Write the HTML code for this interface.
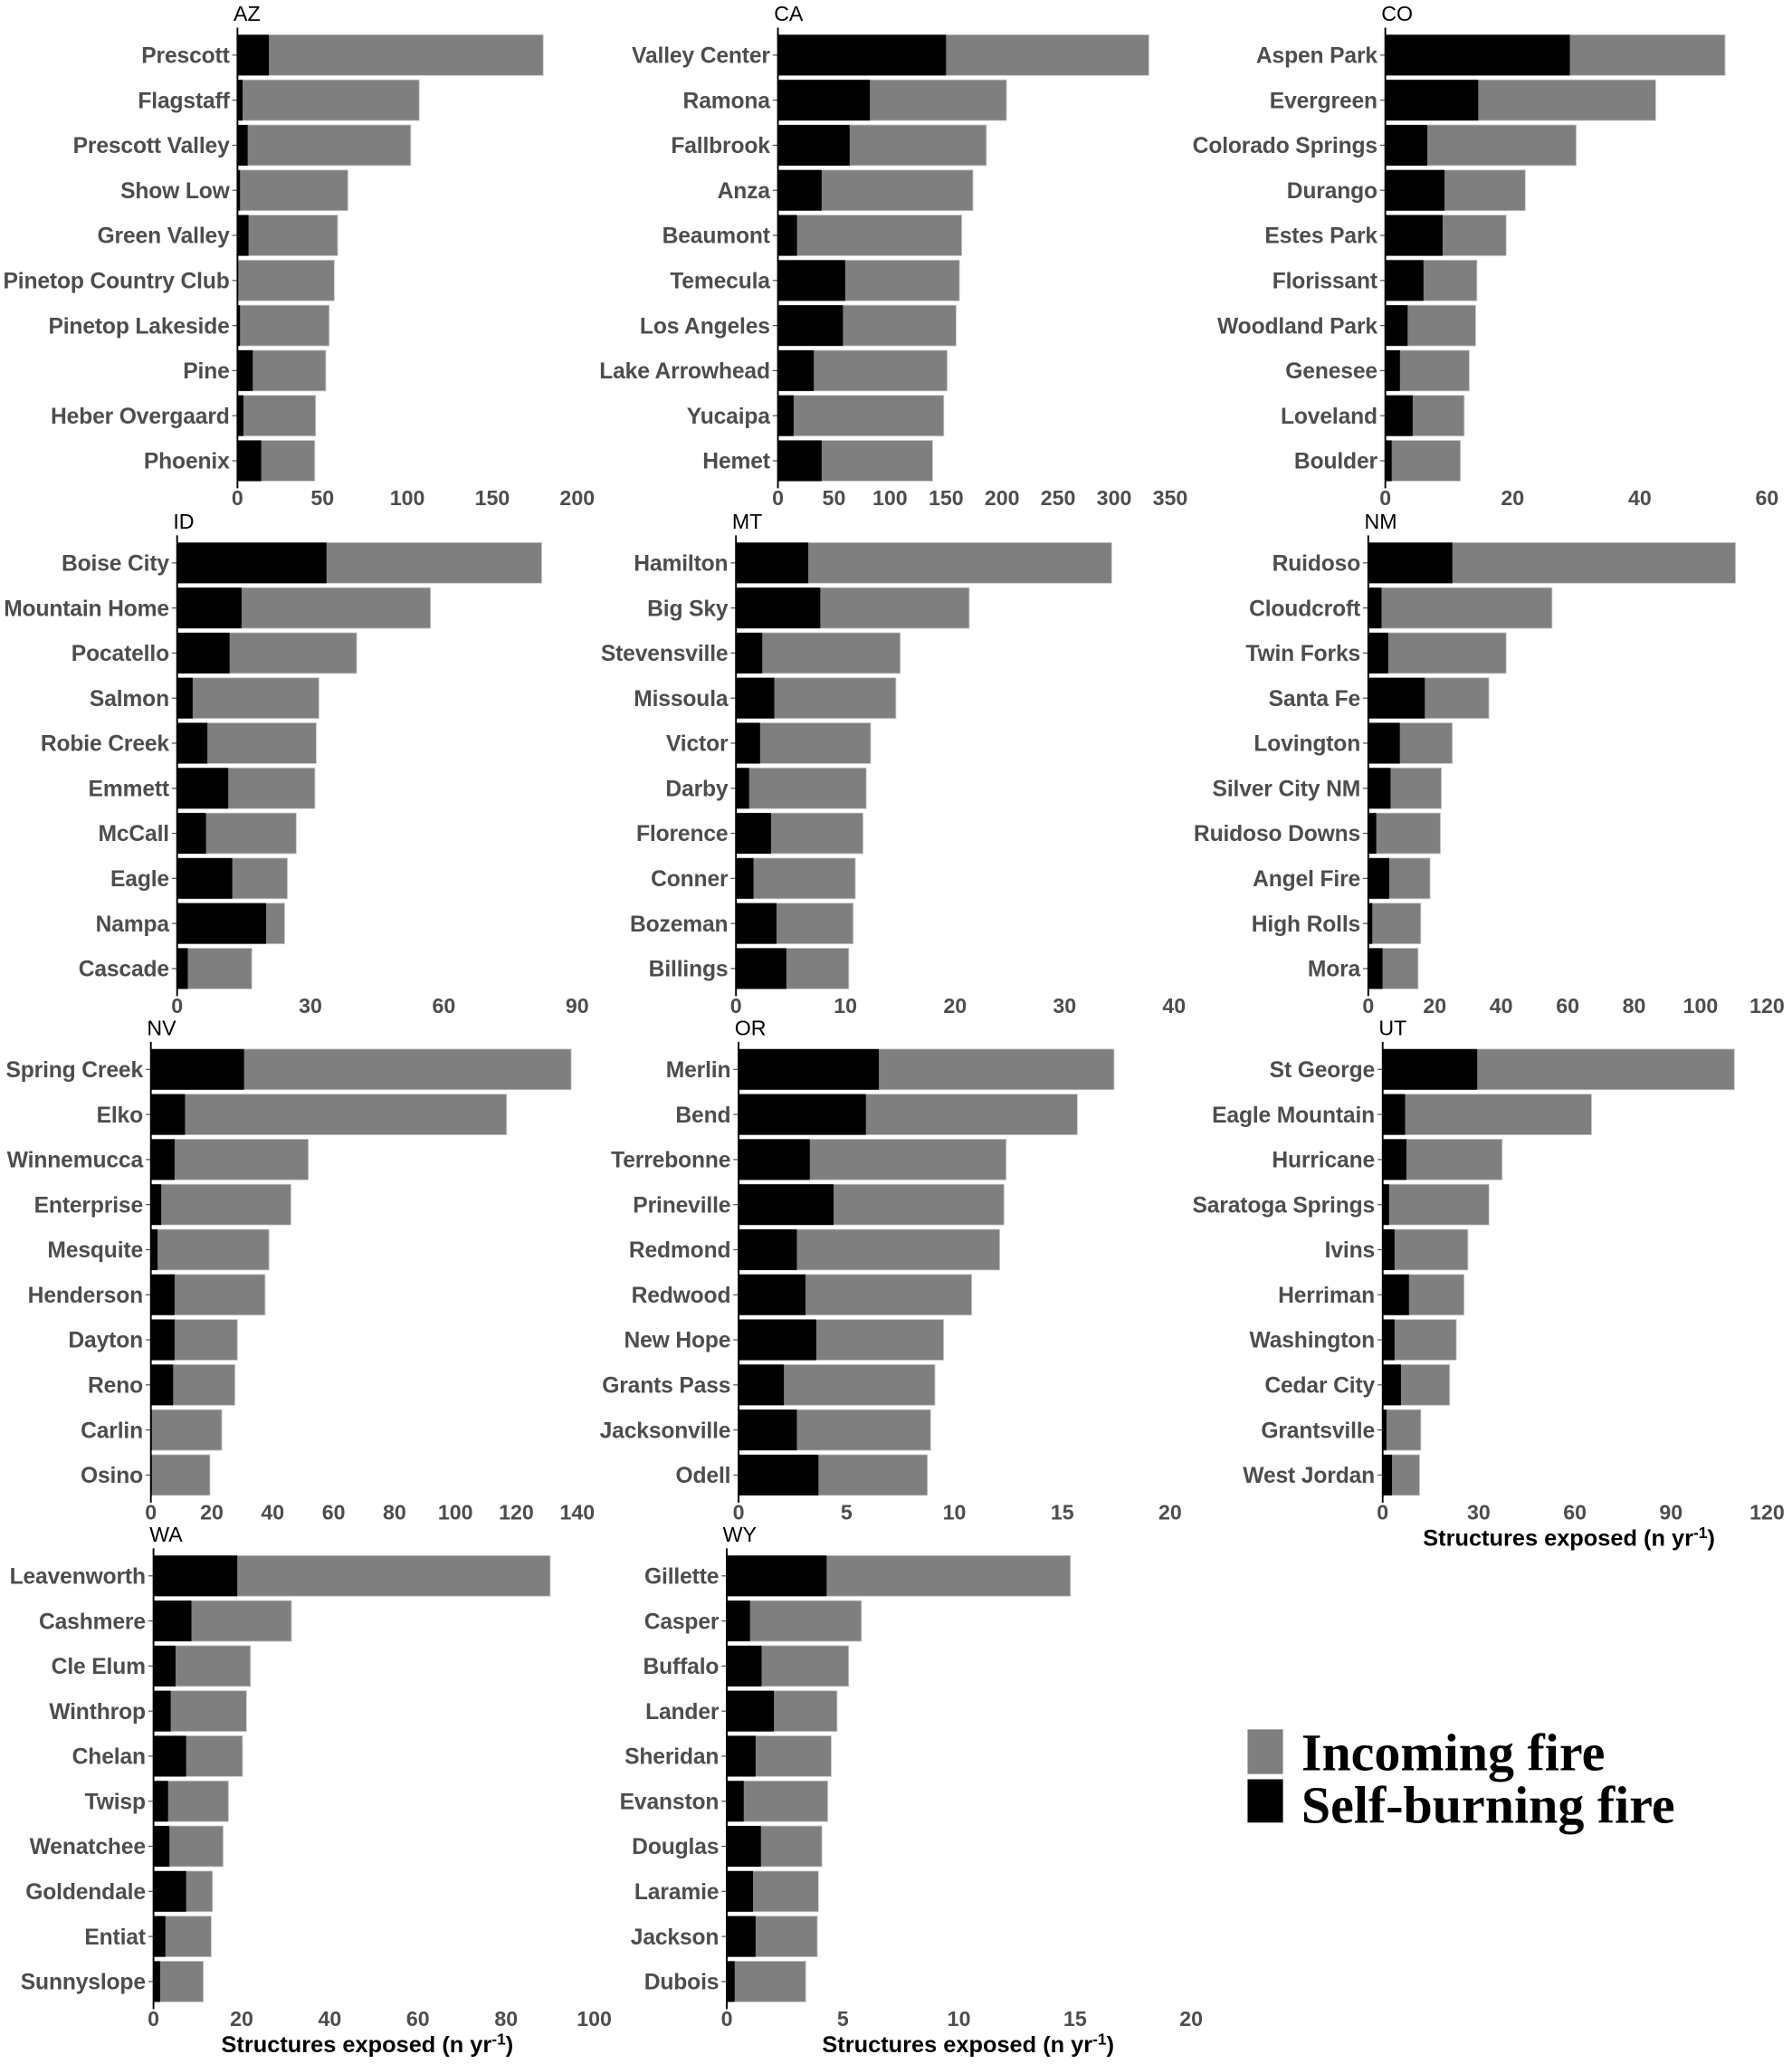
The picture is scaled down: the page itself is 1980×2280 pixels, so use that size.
<!DOCTYPE html>
<html><head><meta charset="utf-8"><style>
html,body{margin:0;padding:0;background:#fff}
svg{display:block}
.lab{font-family:"Liberation Sans",sans-serif;font-weight:bold;font-size:17px;fill:#4d4d4d;letter-spacing:-0.1px}
.tick{font-family:"Liberation Sans",sans-serif;font-weight:bold;font-size:16px;fill:#4d4d4d}
.ttl{font-family:"Liberation Sans",sans-serif;font-size:16px;fill:#000}
.axt{font-family:"Liberation Sans",sans-serif;font-weight:bold;font-size:17.5px;fill:#000}
.leg{font-family:"Liberation Serif",serif;font-weight:bold;font-size:40px;fill:#000}
</style></head><body>
<svg id="chart" width="1980" height="2280" viewBox="0 0 1366 1573" xmlns="http://www.w3.org/2000/svg">
<g>
<rect x="951" y="1318" width="27" height="34" fill="#7f7f7f"/>
<rect x="951" y="1356" width="27" height="33" fill="#000"/>
<text class="leg" x="992" y="1349">Incoming fire</text>
<text class="leg" x="992" y="1389">Self-burning fire</text>
</g>
</svg>
<script>
const azNames=["Prescott","Flagstaff","Prescott Valley","Show Low","Green Valley","Pinetop Country Club","Pinetop Lakeside","Pine","Heber Overgaard","Phoenix"];
const azTotal=[180,107,102,65,59,57,54,52,46,45.5];
const azSelf=[18.5,3,6,1.5,6.5,0.3,1.5,9,3.5,14];
const caNames=["Valley Center","Ramona","Fallbrook","Anza","Beaumont","Temecula","Los Angeles","Lake Arrowhead","Yucaipa","Hemet"];
const caTotal=[331,204,186,174,164,162,159,151,148,138];
const caSelf=[150,82,64,39,17,60,58,32,14,39];
const coNames=["Aspen Park","Evergreen","Colorado Springs","Durango","Estes Park","Florissant","Woodland Park","Genesee","Loveland","Boulder"];
const coTotal=[53.4,42.5,30,22,19,14.4,14.2,13.2,12.4,11.8];
const coSelf=[29,14.6,6.6,9.3,9,6,3.5,2.3,4.3,1];
const idNames=["Boise City","Mountain Home","Pocatello","Salmon","Robie Creek","Emmett","McCall","Eagle","Nampa","Cascade"];
const idTotal=[82,57,40.4,31.9,31.3,31,26.8,24.8,24.2,16.8];
const idSelf=[33.6,14.5,11.8,3.5,6.8,11.5,6.5,12.4,20,2.4];
const mtNames=["Hamilton","Big Sky","Stevensville","Missoula","Victor","Darby","Florence","Conner","Bozeman","Billings"];
const mtTotal=[34.3,21.3,15,14.6,12.3,11.9,11.6,10.9,10.7,10.3];
const mtSelf=[6.6,7.7,2.4,3.5,2.2,1.2,3.2,1.6,3.7,4.6];
const nmNames=["Ruidoso","Cloudcroft","Twin Forks","Santa Fe","Lovington","Silver City NM","Ruidoso Downs","Angel Fire","High Rolls","Mora"];
const nmTotal=[110.5,55.3,41.5,36.3,25.3,22,21.7,18.6,15.8,15];
const nmSelf=[25.3,4,6,17,9.5,6.7,2.4,6.3,1.2,4.3];
const nvNames=["Spring Creek","Elko","Winnemucca","Enterprise","Mesquite","Henderson","Dayton","Reno","Carlin","Osino"];
const nvTotal=[138,116.8,51.7,46,38.8,37.5,28.4,27.6,23.3,19.4];
const nvSelf=[30.6,11.2,7.8,3.4,2.2,7.8,7.8,7.3,0.3,0.3];
const orNames=["Merlin","Bend","Terrebonne","Prineville","Redmond","Redwood","New Hope","Grants Pass","Jacksonville","Odell"];
const orTotal=[17.4,15.7,12.4,12.3,12.1,10.8,9.5,9.1,8.9,8.75];
const orSelf=[6.5,5.9,3.3,4.4,2.7,3.1,3.6,2.1,2.7,3.7];
const utNames=["St George","Eagle Mountain","Hurricane","Saratoga Springs","Ivins","Herriman","Washington","Cedar City","Grantsville","West Jordan"];
const utTotal=[109.8,65.2,37.3,33.2,26.6,25.4,23,20.9,11.9,11.5];
const utSelf=[29.5,7,7.4,2,3.7,8.2,3.7,5.7,1.2,2.9];
const waNames=["Leavenworth","Cashmere","Cle Elum","Winthrop","Chelan","Twisp","Wenatchee","Goldendale","Entiat","Sunnyslope"];
const waTotal=[90,31.3,22,21.1,20.2,17,15.8,13.4,13.1,11.3];
const waSelf=[19,8.6,5,3.9,7.4,3.3,3.6,7.4,2.7,1.5];
const wyNames=["Gillette","Casper","Buffalo","Lander","Sheridan","Evanston","Douglas","Laramie","Jackson","Dubois"];
const wyTotal=[14.8,5.8,5.25,4.75,4.5,4.35,4.1,3.95,3.9,3.4];
const wySelf=[4.3,1,1.5,2.03,1.24,0.73,1.47,1.13,1.24,0.34];
const azTicks=[0,50,100,150,200],caTicks=[0,50,100,150,200,250,300,350],coTicks=[0,20,40,60];
const idTicks=[0,30,60,90],mtTicks=[0,10,20,30,40],nmTicks=[0,20,40,60,80,100,120];
const nvTicks=[0,20,40,60,80,100,120,140],orTicks=[0,5,10,15,20],utTicks=[0,30,60,90,120];
const waTicks=[0,20,40,60,80,100],wyTicks=[0,5,10,15,20];

const panels=[
 {id:"AZ",n:azNames,t:azTotal,s:azSelf,k:azTicks,x0:181,x1:440,y:42},
 {id:"CA",n:caNames,t:caTotal,s:caSelf,k:caTicks,x0:593,x1:892,y:42},
 {id:"CO",n:coNames,t:coTotal,s:coSelf,k:coTicks,x0:1056,x1:1347,y:42},
 {id:"ID",n:idNames,t:idTotal,s:idSelf,k:idTicks,x0:135,x1:440,y:429},
 {id:"MT",n:mtNames,t:mtTotal,s:mtSelf,k:mtTicks,x0:561,x1:895,y:429},
 {id:"NM",n:nmNames,t:nmTotal,s:nmSelf,k:nmTicks,x0:1043,x1:1347,y:429},
 {id:"NV",n:nvNames,t:nvTotal,s:nvSelf,k:nvTicks,x0:115,x1:440,y:815},
 {id:"OR",n:orNames,t:orTotal,s:orSelf,k:orTicks,x0:563,x1:892,y:815},
 {id:"UT",n:utNames,t:utTotal,s:utSelf,k:utTicks,x0:1054,x1:1347,y:815,tc:1196},
 {id:"WA",n:waNames,t:waTotal,s:waSelf,k:waTicks,x0:117,x1:453,y:1201,tc:280},
 {id:"WY",n:wyNames,t:wyTotal,s:wySelf,k:wyTicks,x0:554,x1:908,y:1201,tc:738}
];
const NS="http://www.w3.org/2000/svg";
const svg=document.getElementById('chart');
function mk(tag,attrs,parent){const e=document.createElementNS(NS,tag);for(const a in attrs)e.setAttribute(a,attrs[a]);parent.appendChild(e);return e;}
const pitch=34.35,bh=31;
panels.forEach(p=>{
 const g=mk('g',{},svg);
 
 
 const maxT=p.k[p.k.length-1];
 const sx=v=>p.x0+(p.x1-p.x0)*v/maxT;
 const cy=i=>p.y+i*pitch;
 p.n.forEach((name,i)=>{
  const r1=mk('rect',{x:sx(0),y:cy(i)-bh/2,width:sx(p.t[i])-sx(0),height:bh,fill:'#7f7f7f',stroke:'#c8c8c8','stroke-width':0.6},g);
  
  
  const r2=mk('rect',{x:sx(0),y:cy(i)-bh/2,width:sx(p.s[i])-sx(0),height:bh,fill:'#000'},g);
  
  
  const t=mk('text',{x:p.x0-6,y:cy(i)+6,'text-anchor':'end',class:'lab'},g);
  t.textContent=name;
  
  
  mk('line',{x1:p.x0-4,x2:p.x0,y1:cy(i),y2:cy(i),stroke:'#4d4d4d','stroke-width':0.8},g);
 });
 const ax=mk('line',{x1:p.x0,x2:p.x0,y1:p.y-21,y2:cy(9)+21,stroke:'#000','stroke-width':1.3},g);
 
 
 p.k.forEach(v=>{
  const tx=mk('text',{x:sx(v),y:p.y+343,'text-anchor':'middle',class:'tick'},g);
  tx.textContent=v;
  
  
 });
 const tt=mk('text',{x:p.x0-3,y:p.y-26,class:'ttl'},g);
 tt.textContent=p.id;
 
 
 if(p.tc){
  const at=mk('text',{x:p.tc,y:p.y+363,'text-anchor':'middle',class:'axt'},g);
  at.innerHTML='Structures exposed (n yr<tspan dy="-6" font-size="12">-1</tspan><tspan dy="6">)</tspan>';
  
  
 }
});
</script>
</body></html>
